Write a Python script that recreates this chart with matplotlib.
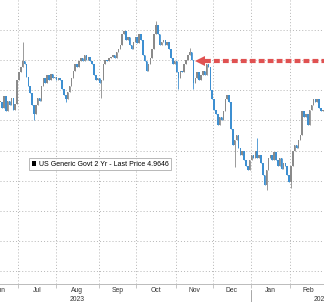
import numpy as np
import pandas as pd
import matplotlib
matplotlib.use("Agg")
import matplotlib.pyplot as plt
import matplotlib.transforms as mtransforms
from matplotlib.patches import Patch

plt.rcParams['font.family'] = ['Liberation Sans', 'DejaVu Sans']

# daily closes of the US 2y yield (Jun 16 2023 -> late Feb 2024)
closes = [
    4.72, 4.68, 4.76, 4.66, 4.73, 4.70, 4.75, 4.67, 4.71, 4.87,
    4.92, 4.95, 4.99, 4.97, 4.89, 4.83, 4.78, 4.70, 4.64, 4.70,
    4.75, 4.73, 4.83, 4.88, 4.85, 4.90, 4.87, 4.91, 4.88, 4.89,
    4.87, 4.88, 4.87, 4.81, 4.77, 4.74, 4.79, 4.83, 4.88, 4.93,
    4.97, 4.95, 4.99, 5.01, 4.99, 5.03, 5.00, 5.02, 4.99, 4.97,
    4.90, 4.87, 4.88, 4.85, 4.87, 4.97, 5.00, 4.99, 5.01, 5.02,
    5.03, 5.01, 5.05, 5.07, 5.10, 5.17, 5.19, 5.13, 5.15, 5.10,
    5.07, 5.12, 5.15, 5.11, 5.17, 5.13, 5.03, 4.99, 4.93, 4.97,
    5.01, 5.07, 5.17, 5.23, 5.17, 5.10, 5.12, 5.13, 5.10, 5.12,
    5.07, 5.01, 4.97, 4.99, 4.92, 4.88, 4.93, 4.92, 4.97, 5.00,
    5.03, 5.05, 5.00, 4.85, 4.88, 4.92, 4.87, 4.90, 4.93, 4.90,
    4.97, 4.95, 4.80, 4.74, 4.67, 4.64, 4.57, 4.62, 4.60, 4.66,
    4.74, 4.77, 4.72, 4.54, 4.44, 4.47, 4.50, 4.42, 4.37, 4.40,
    4.34, 4.30, 4.27, 4.34, 4.37, 4.35, 4.40, 4.35, 4.37, 4.32,
    4.24, 4.17, 4.27, 4.35, 4.37, 4.34, 4.39, 4.34, 4.30, 4.35,
    4.28, 4.32, 4.30, 4.24, 4.19, 4.30, 4.40, 4.44, 4.42, 4.47,
    4.50, 4.66, 4.62, 4.64, 4.57, 4.67, 4.70, 4.74, 4.72, 4.74,
    4.68, 4.66, 4.67,
]
# intraday extremes that stick out past the bodies (day index -> value)
spike_highs = {12: 5.12, 83: 5.26, 101: 5.08, 137: 4.48}
spike_lows = {18: 4.60, 35: 4.72, 54: 4.75, 95: 4.81, 103: 4.81,
              125: 4.29, 142: 4.14, 155: 4.15}

holidays = ['2023-06-19', '2023-07-04', '2023-09-04', '2023-10-09',
            '2023-11-10', '2023-11-23', '2023-12-25', '2024-01-01',
            '2024-01-15', '2024-02-19']
start_date = '2023-06-16'
month_names = ['Jun', 'Jul', 'Aug', 'Sep', 'Oct', 'Nov', 'Dec', 'Jan', 'Feb']
last_price = 4.9646
arrow_level = 4.99

dates = pd.bdate_range(start_date, periods=len(closes), freq='C', holidays=holidays)
n = len(closes)
idx = np.arange(n)
c = np.array(closes)
o = np.r_[c[0], c[:-1]]
hi = np.maximum(o, c)
lo = np.minimum(o, c)
for k, v in spike_highs.items():
    hi[k] = max(hi[k], v)
for k, v in spike_lows.items():
    lo[k] = min(lo[k], v)

fig = plt.figure(figsize=(3.24, 3.02), dpi=100)
ax = fig.add_axes([0, 0.06, 1, 0.94])

up = c >= o
blue = '#3d8fd1'
grey = '#8a8a8a'
cols = np.where(up, grey, blue)
ax.vlines(idx, lo, hi, colors=cols, lw=0.6, zorder=3)
ax.bar(idx, np.maximum(np.abs(c - o), 0.008), bottom=np.minimum(o, c),
       width=0.8, color=cols, lw=0, zorder=3)

# month boundaries
month_start = [i for i in range(1, n) if dates[i].month != dates[i - 1].month]
bounds = [i - 0.5 for i in month_start]
x0, x1 = -0.1, 172.6

ax.set_xticks(bounds)
ax.set_xticklabels([])
ax.tick_params(axis='x', which='major', length=3, color='#bbbbbb', width=0.6)
mids = [x0 + 0.05] + [(bounds[j] + bounds[j + 1]) / 2 for j in range(len(bounds) - 1)]
mids.append(bounds[-1] + 9.5)
ax.set_xticks(mids, minor=True)
ax.set_xticklabels(month_names[:len(mids)], minor=True, fontsize=4.9, color='#333333')
ax.tick_params(axis='x', which='minor', length=0, pad=2)
ax.set_yticks(np.arange(3.6, 5.3, 0.2))
ax.tick_params(axis='y', length=0, labelleft=False)
ax.set_xlim(x0, x1)
ax.set_ylim(3.517, 5.397)

ax.grid(True, which='major', color='#b5b5b5', lw=0.7, linestyle=(0, (1, 2.2)))
ax.set_axisbelow(True)
for s in ['top', 'right', 'left']:
    ax.spines[s].set_visible(False)
ax.spines['bottom'].set_color('#bbbbbb')
ax.spines['bottom'].set_linewidth(0.7)

trans = mtransforms.blended_transform_factory(ax.transData, ax.transAxes)
ax.text(mids[2], -0.043, '2023', transform=trans, fontsize=4.9, color='#333333',
        ha='center', va='top')
ax.text(bounds[-1] + 16.5, -0.043, '2024', transform=trans, fontsize=4.9,
        color='#333333', ha='center', va='top')
jan = bounds[month_names.index('Jan') - 1]
ax.plot([jan, jan], [-0.02, -0.065], transform=trans, color='#999999', lw=0.6,
        clip_on=False)

# red dashed arrow back to the November level
head_x = 104.0
ax.plot([head_x + 5, 180], [arrow_level, arrow_level], color='#e05252', lw=3.0,
        dashes=(1.4, 0.75), solid_capstyle='butt', zorder=5)
ax.plot(head_x + 2.4, arrow_level, marker='<', markersize=6.5, color='#e05252',
        markeredgewidth=0, zorder=5)

leg = ax.legend(handles=[Patch(facecolor='black')],
                labels=['US Generic Govt 2 Yr - Last Price %.4f' % last_price],
                loc='lower left', bbox_to_anchor=(0.09, 0.40), fontsize=5.0,
                frameon=True, fancybox=False, edgecolor='#999999',
                handlelength=0.7, handleheight=0.7, handletextpad=0.4,
                borderpad=0.35, borderaxespad=0)
leg.get_frame().set_linewidth(0.6)

fig.savefig('out.png', dpi=100)
